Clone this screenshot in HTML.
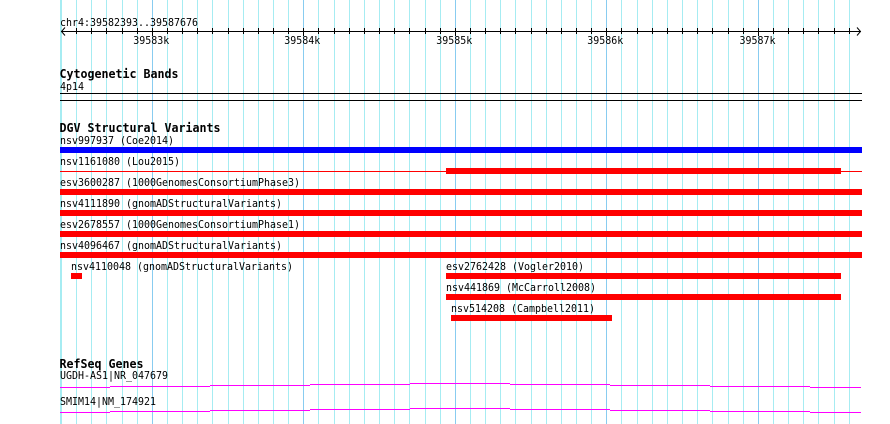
<!DOCTYPE html>
<html><head><meta charset="utf-8"><style>
html,body{margin:0;padding:0;background:#fff;}
svg{display:block;}
text{font-family:"DejaVu Sans Mono","Liberation Mono",monospace;font-size:11px;fill:#000;}
.b{font-weight:bold;font-size:12.2px;}
</style></head><body>
<svg width="890" height="424" viewBox="0 0 890 424" xmlns="http://www.w3.org/2000/svg">
<rect x="0" y="0" width="890" height="424" fill="#fff"/>
<g fill="#a6ecf2" shape-rendering="crispEdges">
<rect x="60" y="0" width="1" height="424"/>
<rect x="61" y="0" width="1" height="424"/>
<rect x="76" y="0" width="1" height="424"/>
<rect x="91" y="0" width="1" height="424"/>
<rect x="106" y="0" width="1" height="424"/>
<rect x="122" y="0" width="1" height="424"/>
<rect x="137" y="0" width="1" height="424"/>
<rect x="167" y="0" width="1" height="424"/>
<rect x="182" y="0" width="1" height="424"/>
<rect x="197" y="0" width="1" height="424"/>
<rect x="212" y="0" width="1" height="424"/>
<rect x="228" y="0" width="1" height="424"/>
<rect x="243" y="0" width="1" height="424"/>
<rect x="258" y="0" width="1" height="424"/>
<rect x="273" y="0" width="1" height="424"/>
<rect x="288" y="0" width="1" height="424"/>
<rect x="318" y="0" width="1" height="424"/>
<rect x="334" y="0" width="1" height="424"/>
<rect x="349" y="0" width="1" height="424"/>
<rect x="364" y="0" width="1" height="424"/>
<rect x="379" y="0" width="1" height="424"/>
<rect x="394" y="0" width="1" height="424"/>
<rect x="409" y="0" width="1" height="424"/>
<rect x="425" y="0" width="1" height="424"/>
<rect x="440" y="0" width="1" height="424"/>
<rect x="470" y="0" width="1" height="424"/>
<rect x="485" y="0" width="1" height="424"/>
<rect x="500" y="0" width="1" height="424"/>
<rect x="515" y="0" width="1" height="424"/>
<rect x="531" y="0" width="1" height="424"/>
<rect x="546" y="0" width="1" height="424"/>
<rect x="561" y="0" width="1" height="424"/>
<rect x="576" y="0" width="1" height="424"/>
<rect x="591" y="0" width="1" height="424"/>
<rect x="621" y="0" width="1" height="424"/>
<rect x="637" y="0" width="1" height="424"/>
<rect x="652" y="0" width="1" height="424"/>
<rect x="667" y="0" width="1" height="424"/>
<rect x="682" y="0" width="1" height="424"/>
<rect x="697" y="0" width="1" height="424"/>
<rect x="712" y="0" width="1" height="424"/>
<rect x="728" y="0" width="1" height="424"/>
<rect x="743" y="0" width="1" height="424"/>
<rect x="773" y="0" width="1" height="424"/>
<rect x="788" y="0" width="1" height="424"/>
<rect x="803" y="0" width="1" height="424"/>
<rect x="818" y="0" width="1" height="424"/>
<rect x="834" y="0" width="1" height="424"/>
<rect x="849" y="0" width="1" height="424"/>
</g>
<g fill="#88ccf0" shape-rendering="crispEdges">
<rect x="152" y="0" width="1" height="424"/>
<rect x="303" y="0" width="1" height="424"/>
<rect x="455" y="0" width="1" height="424"/>
<rect x="606" y="0" width="1" height="424"/>
<rect x="758" y="0" width="1" height="424"/>
</g>

<!-- Ruler -->
<text x="60" y="26" textLength="138" lengthAdjust="spacingAndGlyphs">chr4:39582393..39587676</text>
<g fill="#000" shape-rendering="crispEdges">
<rect x="61" y="31" width="800" height="1"/>
<rect x="76" y="28" width="1" height="6"/>
<rect x="91" y="28" width="1" height="6"/>
<rect x="106" y="28" width="1" height="6"/>
<rect x="122" y="28" width="1" height="6"/>
<rect x="137" y="28" width="1" height="6"/>
<rect x="152" y="28" width="1" height="8"/>
<rect x="167" y="28" width="1" height="6"/>
<rect x="182" y="28" width="1" height="6"/>
<rect x="197" y="28" width="1" height="6"/>
<rect x="212" y="28" width="1" height="6"/>
<rect x="228" y="28" width="1" height="6"/>
<rect x="243" y="28" width="1" height="6"/>
<rect x="258" y="28" width="1" height="6"/>
<rect x="273" y="28" width="1" height="6"/>
<rect x="288" y="28" width="1" height="6"/>
<rect x="303" y="28" width="1" height="8"/>
<rect x="318" y="28" width="1" height="6"/>
<rect x="334" y="28" width="1" height="6"/>
<rect x="349" y="28" width="1" height="6"/>
<rect x="364" y="28" width="1" height="6"/>
<rect x="379" y="28" width="1" height="6"/>
<rect x="394" y="28" width="1" height="6"/>
<rect x="409" y="28" width="1" height="6"/>
<rect x="425" y="28" width="1" height="6"/>
<rect x="440" y="28" width="1" height="6"/>
<rect x="455" y="28" width="1" height="8"/>
<rect x="470" y="28" width="1" height="6"/>
<rect x="485" y="28" width="1" height="6"/>
<rect x="500" y="28" width="1" height="6"/>
<rect x="515" y="28" width="1" height="6"/>
<rect x="531" y="28" width="1" height="6"/>
<rect x="546" y="28" width="1" height="6"/>
<rect x="561" y="28" width="1" height="6"/>
<rect x="576" y="28" width="1" height="6"/>
<rect x="591" y="28" width="1" height="6"/>
<rect x="606" y="28" width="1" height="8"/>
<rect x="621" y="28" width="1" height="6"/>
<rect x="637" y="28" width="1" height="6"/>
<rect x="652" y="28" width="1" height="6"/>
<rect x="667" y="28" width="1" height="6"/>
<rect x="682" y="28" width="1" height="6"/>
<rect x="697" y="28" width="1" height="6"/>
<rect x="712" y="28" width="1" height="6"/>
<rect x="728" y="28" width="1" height="6"/>
<rect x="743" y="28" width="1" height="6"/>
<rect x="758" y="28" width="1" height="8"/>
<rect x="773" y="28" width="1" height="6"/>
<rect x="788" y="28" width="1" height="6"/>
<rect x="803" y="28" width="1" height="6"/>
<rect x="818" y="28" width="1" height="6"/>
<rect x="834" y="28" width="1" height="6"/>
<rect x="849" y="28" width="1" height="6"/>
</g>
<polyline points="65,27.5 61.5,31.5 65,35.5" fill="none" stroke="#000" stroke-width="1"/>
<polyline points="857,27.5 860.5,31.5 857,35.5" fill="none" stroke="#000" stroke-width="1"/>
<text x="151.3" y="44" text-anchor="middle" textLength="36" lengthAdjust="spacingAndGlyphs">39583k</text>
<text x="302.3" y="44" text-anchor="middle" textLength="36" lengthAdjust="spacingAndGlyphs">39584k</text>
<text x="454.3" y="44" text-anchor="middle" textLength="36" lengthAdjust="spacingAndGlyphs">39585k</text>
<text x="605.3" y="44" text-anchor="middle" textLength="36" lengthAdjust="spacingAndGlyphs">39586k</text>
<text x="757.5" y="44" text-anchor="middle" textLength="36" lengthAdjust="spacingAndGlyphs">39587k</text>

<!-- Cytogenetic bands -->
<text class="b" x="59.5" y="78" textLength="119" lengthAdjust="spacingAndGlyphs">Cytogenetic Bands</text>
<text x="60" y="90" textLength="24" lengthAdjust="spacingAndGlyphs">4p14</text>
<g fill="#000" shape-rendering="crispEdges">
<rect x="60" y="93" width="802" height="1"/>
<rect x="60" y="100" width="802" height="1"/>
</g>

<!-- DGV -->
<text class="b" x="59.5" y="132" textLength="161" lengthAdjust="spacingAndGlyphs">DGV Structural Variants</text>
<text x="60" y="144" textLength="114" lengthAdjust="spacingAndGlyphs">nsv997937 (Coe2014)</text>
<rect x="60" y="147" width="802" height="6" fill="#0000ff" shape-rendering="crispEdges"/>

<text x="60" y="165" textLength="120" lengthAdjust="spacingAndGlyphs">nsv1161080 (Lou2015)</text>
<g fill="#ff0000" shape-rendering="crispEdges">
<rect x="60" y="171" width="802" height="1"/>
<rect x="446" y="168" width="395" height="6"/>
</g>

<text x="60" y="186" textLength="240" lengthAdjust="spacingAndGlyphs">esv3600287 (1000GenomesConsortiumPhase3)</text>
<text x="60" y="207" textLength="222" lengthAdjust="spacingAndGlyphs">nsv4111890 (gnomADStructuralVariants)</text>
<text x="60" y="228" textLength="240" lengthAdjust="spacingAndGlyphs">esv2678557 (1000GenomesConsortiumPhase1)</text>
<text x="60" y="249" textLength="222" lengthAdjust="spacingAndGlyphs">nsv4096467 (gnomADStructuralVariants)</text>
<text x="71" y="270" textLength="222" lengthAdjust="spacingAndGlyphs">nsv4110048 (gnomADStructuralVariants)</text>
<text x="446" y="270" textLength="138" lengthAdjust="spacingAndGlyphs">esv2762428 (Vogler2010)</text>
<text x="446" y="291" textLength="150" lengthAdjust="spacingAndGlyphs">nsv441869 (McCarroll2008)</text>
<text x="451" y="312" textLength="144" lengthAdjust="spacingAndGlyphs">nsv514208 (Campbell2011)</text>
<g fill="#ff0000" shape-rendering="crispEdges">
<rect x="60" y="189" width="802" height="6"/>
<rect x="60" y="210" width="802" height="6"/>
<rect x="60" y="231" width="802" height="6"/>
<rect x="60" y="252" width="802" height="6"/>
<rect x="71" y="273" width="11" height="6"/>
<rect x="446" y="273" width="395" height="6"/>
<rect x="446" y="294" width="395" height="6"/>
<rect x="451" y="315" width="161" height="6"/>
</g>

<!-- RefSeq -->
<text class="b" x="59.5" y="368" textLength="84" lengthAdjust="spacingAndGlyphs">RefSeq Genes</text>
<text x="60" y="379" textLength="108" lengthAdjust="spacingAndGlyphs">UGDH-AS1|NR_047679</text>
<text x="60" y="405" textLength="96" lengthAdjust="spacingAndGlyphs">SMIM14|NM_174921</text>
<g fill="#ff00ff" shape-rendering="crispEdges">
<rect x="60" y="387" width="50" height="1"/>
<rect x="110" y="386" width="100" height="1"/>
<rect x="210" y="385" width="100" height="1"/>
<rect x="310" y="384" width="100" height="1"/>
<rect x="410" y="383" width="100" height="1"/>
<rect x="510" y="384" width="100" height="1"/>
<rect x="610" y="385" width="100" height="1"/>
<rect x="710" y="386" width="100" height="1"/>
<rect x="810" y="387" width="51" height="1"/>

<rect x="60" y="412" width="50" height="1"/>
<rect x="110" y="411" width="100" height="1"/>
<rect x="210" y="410" width="100" height="1"/>
<rect x="310" y="409" width="100" height="1"/>
<rect x="410" y="408" width="100" height="1"/>
<rect x="510" y="409" width="100" height="1"/>
<rect x="610" y="410" width="100" height="1"/>
<rect x="710" y="411" width="100" height="1"/>
<rect x="810" y="412" width="51" height="1"/>
</g>
</svg>
</body></html>
